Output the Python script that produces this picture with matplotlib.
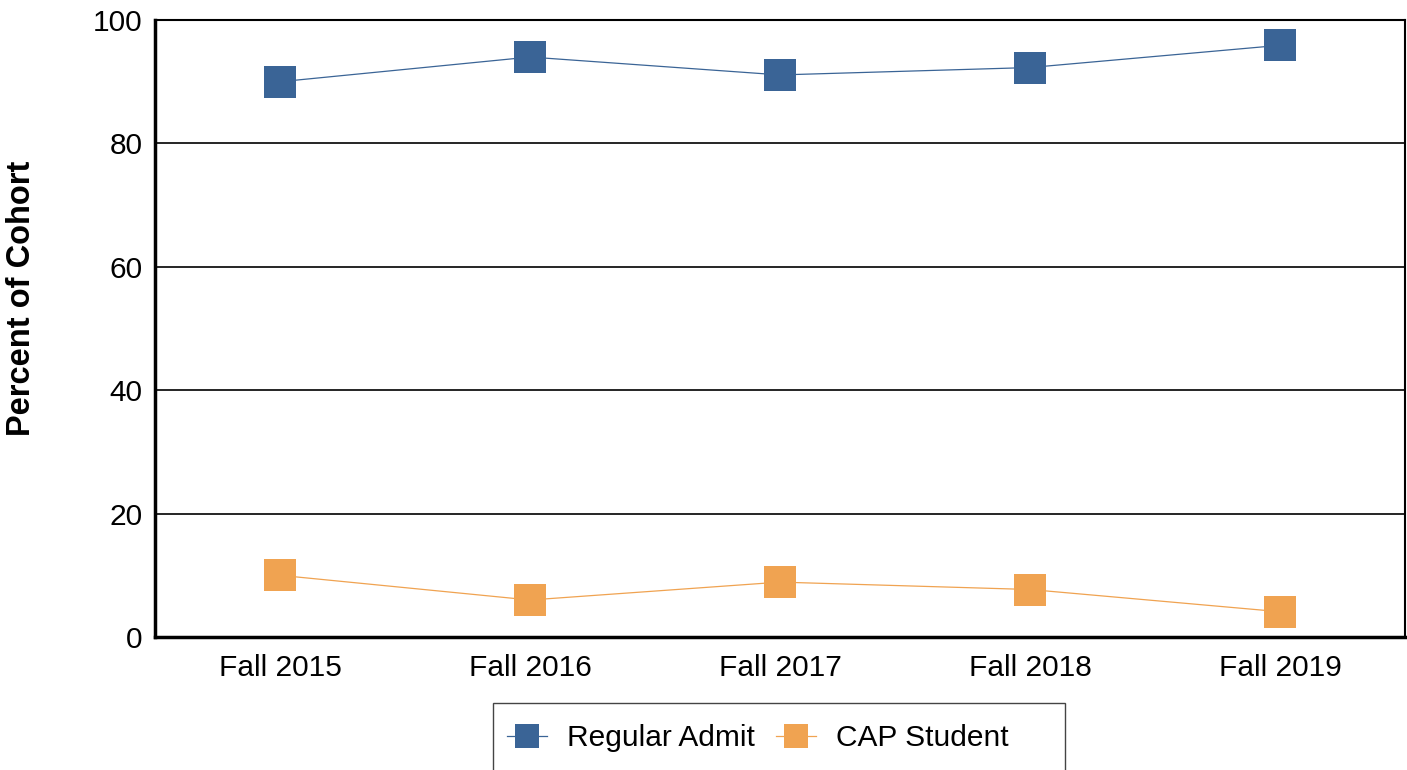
import matplotlib
matplotlib.use('Agg')
import matplotlib.pyplot as plt
from matplotlib.patches import Rectangle

# data
terms = ['Fall 2015', 'Fall 2016', 'Fall 2017', 'Fall 2018', 'Fall 2019']
regular_admit = [90.0, 94.0, 91.1, 92.3, 95.9]
cap_student = [10.0, 6.0, 8.9, 7.7, 4.1]
y_ticks = [0, 20, 40, 60, 80, 100]

plt.rcParams['font.family'] = ['Liberation Sans', 'DejaVu Sans']

fig = plt.figure(figsize=(14.07, 7.70), dpi=100)
ax = fig.add_axes([0.1102, 0.1727, 0.8884, 0.8013])

x = list(range(len(terms)))
ax.plot(x, regular_admit, color='#3A6496', lw=0.9, marker='s', ms=22.5,
        markeredgewidth=0, label='Regular Admit', zorder=3)
ax.plot(x, cap_student, color='#F0A351', lw=0.9, marker='s', ms=22.5,
        markeredgewidth=0, label='CAP Student', zorder=3)

ax.set_xlim(-0.5, len(terms) - 0.5)
ax.set_ylim(0, 100)
ax.set_yticks(y_ticks)
ax.set_xticks(x)
ax.set_xticklabels(terms)
ax.tick_params(axis='both', length=0, labelsize=21.5)
ax.tick_params(axis='x', pad=12)
ax.tick_params(axis='y', pad=9)

for yv in y_ticks[1:-1]:
    ax.axhline(yv, color='black', lw=1.2, zorder=1)

ax.spines['left'].set_linewidth(2.5)
ax.spines['bottom'].set_linewidth(2.5)
ax.spines['top'].set_linewidth(1.5)
ax.spines['right'].set_linewidth(1.5)

fig.text(0.0156, 0.612, 'Percent of Cohort', rotation=90, fontsize=23.5,
         fontweight='bold', ha='center', va='center')

# legend entries without frame, box drawn separately (it runs off the bottom)
leg = fig.legend(loc='center left', bbox_to_anchor=(507 / 1407, 1 - 738 / 770), ncol=2,
                 fontsize=21.5, frameon=False, borderpad=0, borderaxespad=0,
                 handlelength=1.33, handletextpad=0.67, columnspacing=0.73,
                 markerscale=0.77)
fig.add_artist(Rectangle((493 / 1407, -0.05), (1065 - 493) / 1407, (770 - 703) / 770 + 0.05,
                         transform=fig.transFigure, fill=False,
                         edgecolor='#444444', lw=1.0))

plt.savefig('out.png', dpi=100)
plt.close()
